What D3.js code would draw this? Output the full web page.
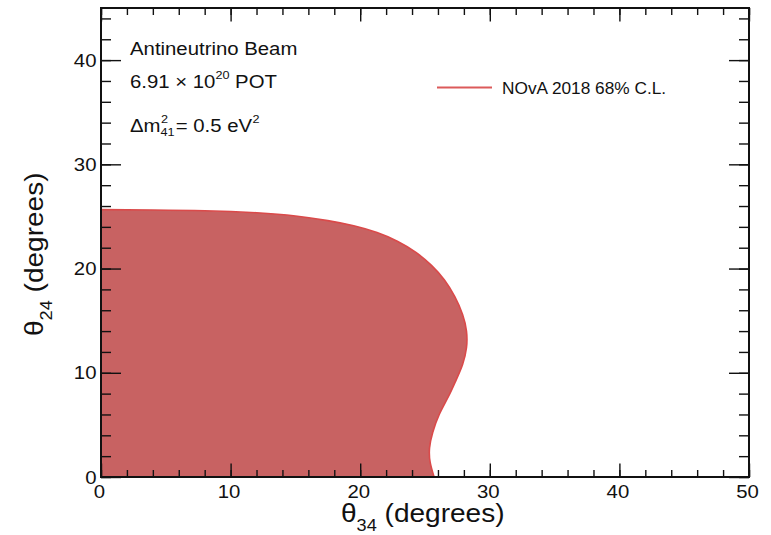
<!DOCTYPE html>
<html>
<head>
<meta charset="utf-8">
<script src="https://cdn.jsdelivr.net/npm/d3@7"></script>
<style>
  html, body { margin: 0; padding: 0; background: #fff; }
  svg { display: block; }
</style>
</head>
<body>
<div id="chart"></div>
<script>
// Axis ranges and labelled ticks
const theta34Domain = [0, 50];
const theta24Domain = [0, 45];
const xTickLabels = [0, 10, 20, 30, 40, 50];
const yTickLabels = [0, 10, 20, 30, 40];

// 68% C.L. allowed-region boundary (theta34, theta24 in degrees)
const contourTheta34 = [0, 4, 8, 12, 15, 17.5, 19.5, 21.3, 22.9, 24.3, 25.5, 26.5, 27.3, 27.9, 28.2, 28.2, 27.9, 27.4, 26.8, 26.1, 25.6, 25.35, 25.4, 25.7];
const contourTheta24 = [25.65, 25.62, 25.55, 25.35, 25.05, 24.6, 24.1, 23.45, 22.6, 21.55, 20.3, 18.9, 17.3, 15.6, 14.0, 12.4, 10.8, 9.3, 7.7, 6.0, 4.3, 2.8, 1.4, 0];

const legendLabel = "NOvA 2018 68% C.L.";

const W = 771, H = 535;
const FONT = "'Liberation Sans', Arial, Helvetica, sans-serif";
const STRETCH = 1.1;
const plot = { left: 101, top: 8, right: 749, bottom: 477 };

const svg = d3.select("#chart").append("svg")
  .attr("width", W).attr("height", H)
  .attr("font-family", FONT);

const x = d3.scaleLinear().domain(theta34Domain).range([plot.left, plot.right]);
const y = d3.scaleLinear().domain(theta24Domain).range([plot.bottom, plot.top]);

// Filled region
const pts = contourTheta34.map((v, i) => [v, contourTheta24[i]]);
const boundary = d3.line()
  .x(d => x(d[0])).y(d => y(d[1]))
  .curve(d3.curveNatural);

svg.append("path")
  .attr("d", boundary(pts) + `L${x(0)},${y(0)}Z`)
  .attr("fill", "#c86262")
  .attr("stroke", "none");

svg.append("path")
  .attr("d", boundary(pts))
  .attr("fill", "none")
  .attr("stroke", "#da4a4a")
  .attr("stroke-width", 1.6);

// Inward ticks on all four sides
const minorX = d3.range(0, 50.01, 2);
const minorY = d3.range(0, 45.01, 2);

function tickAxis(axisFn, scale, values, size, transform) {
  const g = svg.append("g")
    .attr("transform", transform)
    .call(axisFn(scale).tickValues(values).tickSize(size).tickFormat(""));
  g.select(".domain").remove();
  g.selectAll(".tick line").attr("stroke", "#111").attr("stroke-width", 1.4);
  return g;
}

tickAxis(d3.axisBottom, x, minorX, -7, `translate(0,${plot.bottom})`);
tickAxis(d3.axisBottom, x, xTickLabels, -13.5, `translate(0,${plot.bottom})`);
tickAxis(d3.axisTop, x, minorX, -7, `translate(0,${plot.top})`);
tickAxis(d3.axisTop, x, xTickLabels, -13.5, `translate(0,${plot.top})`);
tickAxis(d3.axisLeft, y, minorY, -10, `translate(${plot.left},0)`);
tickAxis(d3.axisLeft, y, yTickLabels, -20, `translate(${plot.left},0)`);
tickAxis(d3.axisRight, y, minorY, -10, `translate(${plot.right},0)`);
tickAxis(d3.axisRight, y, yTickLabels, -20, `translate(${plot.right},0)`);

// Frame
svg.append("rect")
  .attr("x", plot.left).attr("y", plot.top)
  .attr("width", plot.right - plot.left).attr("height", plot.bottom - plot.top)
  .attr("fill", "none").attr("stroke", "#111").attr("stroke-width", 2);

// Text helper with the slightly wide typeface
function stext(px, py, size, anchor, rot) {
  const r = rot ? ` rotate(${rot})` : "";
  return svg.append("text")
    .attr("transform", `translate(${px},${py})${r} scale(${STRETCH},1)`)
    .attr("font-size", size)
    .attr("text-anchor", anchor || "start")
    .attr("fill", "#111");
}

// Tick labels
xTickLabels.forEach(v => {
  stext(x(v) - 1.5, 498, 18.5, "middle").text(v);
});
yTickLabels.forEach(v => {
  stext(96.5, y(v) + 6.7, 18.5, "end").text(v);
});

// Axis titles
const xt = stext(341, 522, 25.5, "start");
xt.append("tspan").text("θ");
xt.append("tspan").attr("font-size", 16.5).attr("dy", 9).text("34");
xt.append("tspan").attr("dy", -9).text(" (degrees)");

const yt = stext(43, 336, 25.5, "start", -90);
yt.append("tspan").text("θ");
yt.append("tspan").attr("font-size", 16.5).attr("dy", 9).text("24");
yt.append("tspan").attr("dy", -9).text(" (degrees)");

// Annotation block
stext(130, 55, 18.5).text("Antineutrino Beam");

const l2 = stext(130, 88, 18.5);
l2.append("tspan").text("6.91 × 10");
l2.append("tspan").attr("font-size", 11.5).attr("dy", -9).text("20");
l2.append("tspan").attr("dy", 9).text(" POT");

// Δm²₄₁ = 0.5 eV² with stacked super/subscript
const g3 = svg.append("g").attr("transform", `translate(130,132) scale(${STRETCH},1)`)
  .attr("fill", "#111");
const dm = g3.append("text").attr("font-size", 18.5).text("Δm");
const dmW = dm.node().getComputedTextLength();
g3.append("text").attr("x", dmW + 0.5).attr("y", -9).attr("font-size", 11.5).text("2");
const sub = g3.append("text").attr("x", dmW).attr("y", 4).attr("font-size", 11.5).text("41");
const subW = sub.node().getComputedTextLength();
const rest = g3.append("text").attr("x", dmW + subW + 1).attr("font-size", 18.5).text("= 0.5 eV");
const restW = rest.node().getComputedTextLength();
g3.append("text").attr("x", dmW + subW + 1 + restW + 0.5).attr("y", -9).attr("font-size", 11.5).text("2");

// Legend
svg.append("line")
  .attr("x1", 437).attr("x2", 492).attr("y1", 87.5).attr("y2", 87.5)
  .attr("stroke", "#dc5a5a").attr("stroke-width", 2.2);
stext(502, 93.5, 15.7).text(legendLabel);
</script>
</body>
</html>
